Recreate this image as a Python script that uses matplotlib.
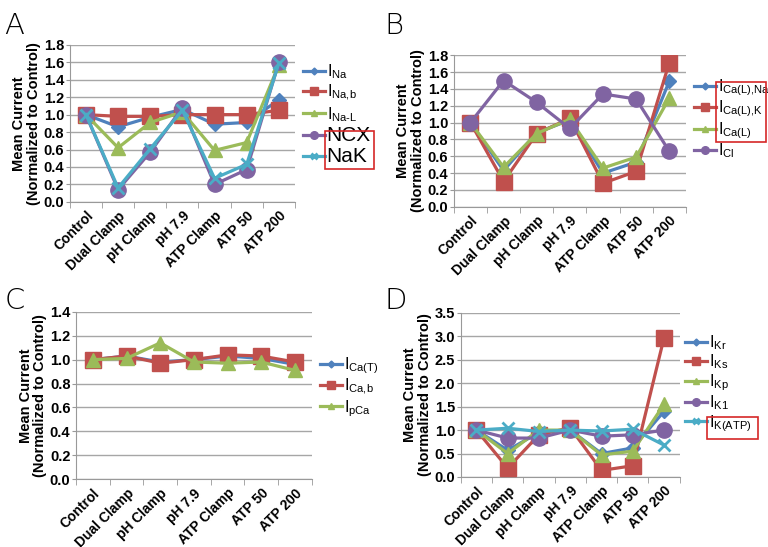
import matplotlib
matplotlib.use('Agg')
import matplotlib.pyplot as plt
from matplotlib.patches import Rectangle

plt.rcParams['font.family'] = ['Liberation Sans', 'DejaVu Sans']
plt.rcParams['mathtext.fontset'] = 'custom'
plt.rcParams['mathtext.rm'] = 'Liberation Sans'

conditions = ['Control', 'Dual Clamp', 'pH Clamp', 'pH 7.9', 'ATP Clamp', 'ATP 50', 'ATP 200']

# panel A - sodium currents
a_labels = [r'$\mathregular{I_{Na}}$', r'$\mathregular{I_{Na{,}b}}$', r'$\mathregular{I_{Na\text{-}L}}$', 'NCX', 'NaK']
a_ina = [1.0, 0.86, 0.97, 1.06, 0.89, 0.91, 1.17]
a_inab = [1.0, 0.98, 0.98, 1.0, 1.0, 1.0, 1.05]
a_inal = [1.0, 0.62, 0.91, 1.03, 0.59, 0.68, 1.57]
a_ncx = [1.0, 0.14, 0.57, 1.08, 0.20, 0.37, 1.60]
a_nak = [1.0, 0.16, 0.61, 1.05, 0.27, 0.43, 1.59]

# panel B - L-type calcium and chloride
b_labels = [r'$\mathregular{I_{Ca(L){,}Na}}$', r'$\mathregular{I_{Ca(L){,}K}}$', r'$\mathregular{I_{Ca(L)}}$', r'$\mathregular{I_{Cl}}$']
b_icalna = [1.0, 0.43, 0.88, 1.03, 0.40, 0.53, 1.49]
b_icalk = [1.0, 0.30, 0.87, 1.05, 0.28, 0.42, 1.71]
b_ical = [1.0, 0.47, 0.87, 1.04, 0.46, 0.59, 1.29]
b_icl = [1.0, 1.50, 1.24, 0.93, 1.34, 1.28, 0.66]

# panel C - other calcium currents
c_labels = [r'$\mathregular{I_{Ca(T)}}$', r'$\mathregular{I_{Ca{,}b}}$', r'$\mathregular{I_{pCa}}$']
c_icat = [1.0, 1.03, 0.98, 1.0, 1.03, 1.01, 0.96]
c_icab = [1.0, 1.03, 0.97, 1.0, 1.04, 1.03, 0.98]
c_ipca = [1.0, 1.01, 1.14, 0.98, 0.97, 0.98, 0.91]

# panel D - potassium currents
d_labels = [r'$\mathregular{I_{Kr}}$', r'$\mathregular{I_{Ks}}$', r'$\mathregular{I_{Kp}}$', r'$\mathregular{I_{K1}}$', r'$\mathregular{I_{K(ATP)}}$']
d_ikr = [1.0, 0.57, 0.95, 1.0, 0.50, 0.62, 1.40]
d_iks = [1.0, 0.19, 0.90, 1.05, 0.14, 0.24, 2.97]
d_ikp = [1.0, 0.50, 1.0, 1.0, 0.47, 0.55, 1.55]
d_ik1 = [1.0, 0.83, 0.83, 1.0, 0.87, 0.90, 1.0]
d_ikatp = [1.0, 1.04, 0.97, 1.0, 0.98, 1.02, 0.68]

colors = ['#4F81BD', '#C0504D', '#9BBB59', '#8064A2', '#4BACC6']
markers = ['D', 's', '^', 'o', 'x']
msizes = [7, 11, 10, 11, 9]

fig = plt.figure(figsize=(7.68, 5.47), dpi=100)


def panel(rect, series, labels, ymax, ystep, letter, letter_pos, leg_anchor, lspace):
    ax = fig.add_axes(rect)
    x = range(len(conditions))
    for i, (ys, lab) in enumerate(zip(series, labels)):
        ax.plot(x, ys, color=colors[i], lw=2.3, marker=markers[i], ms=msizes[i],
                mew=2 if markers[i] == 'x' else 1, label=lab, zorder=3)
    ax.set_xlim(-0.5, len(conditions) - 0.5)
    ax.set_ylim(0, ymax)
    n = int(round(ymax / ystep))
    yt = [k * ystep for k in range(n + 1)]
    ax.set_yticks(yt)
    ax.set_yticklabels(['%.1f' % v for v in yt], fontsize=10.5, fontweight='bold')
    ax.set_xticks(list(x))
    ax.set_xticklabels(conditions, rotation=45, ha='right', rotation_mode='anchor',
                       fontsize=10, fontweight='bold')
    ax.tick_params(axis='x', length=0, pad=5)
    ax.set_xticks([k - 0.5 for k in range(len(conditions) + 1)], minor=True)
    ax.tick_params(axis='x', which='minor', length=4, color='#999999')
    ax.tick_params(axis='y', length=3, color='#999999', pad=1)
    ax.grid(axis='y', color='#a6a6a6', lw=1)
    ax.set_axisbelow(True)
    for s in ['top', 'right']:
        ax.spines[s].set_visible(False)
    for s in ['left', 'bottom']:
        ax.spines[s].set_color('#999999')
    ax.set_ylabel('Mean Current\n(Normalized to Control)', fontsize=10.5, fontweight='bold',
                  linespacing=1.05, labelpad=2)
    leg = ax.legend(loc='center left', bbox_to_anchor=leg_anchor, frameon=False,
                    fontsize=11.5, markerscale=0.5, handlelength=1.4, handletextpad=0.1,
                    labelspacing=lspace, borderaxespad=0, borderpad=0)
    for t in leg.get_texts():
        if not t.get_text().startswith('$'):
            t.set_fontsize(15)
    fig.text(letter_pos[0], letter_pos[1], letter, fontsize=21, fontfamily='DejaVu Sans',
             fontweight='light', va='top')
    return ax, leg


panel([0.091, 0.631, 0.293, 0.287], [a_ina, a_inab, a_inal, a_ncx, a_nak], a_labels,
      1.8, 0.2, 'A', (0.006, 0.978), (1.035, 0.56), 0.12)
panel([0.591, 0.622, 0.302, 0.277], [b_icalna, b_icalk, b_ical, b_icl], b_labels,
      1.8, 0.2, 'B', (0.501, 0.978), (1.034, 0.58), 0.05)
panel([0.099, 0.124, 0.307, 0.306], [c_icat, c_icab, c_ipca], c_labels,
      1.4, 0.2, 'C', (0.006, 0.475), (1.034, 0.55), 0.05)
panel([0.600, 0.128, 0.285, 0.300], [d_ikr, d_iks, d_ikp, d_ik1, d_ikatp], d_labels,
      3.5, 0.5, 'D', (0.501, 0.475), (1.023, 0.57), 0.05)

# red highlight boxes around legend entries
for (x0, y0, x1, y1) in [(325, 131, 374, 169), (716, 82, 766, 142), (707, 417, 758, 439)]:
    fig.add_artist(Rectangle((x0 / 768, 1 - y1 / 547), (x1 - x0) / 768, (y1 - y0) / 547,
                             transform=fig.transFigure, fill=False, ec='#d62728', lw=1.2))

fig.savefig('out.png', dpi=100)
